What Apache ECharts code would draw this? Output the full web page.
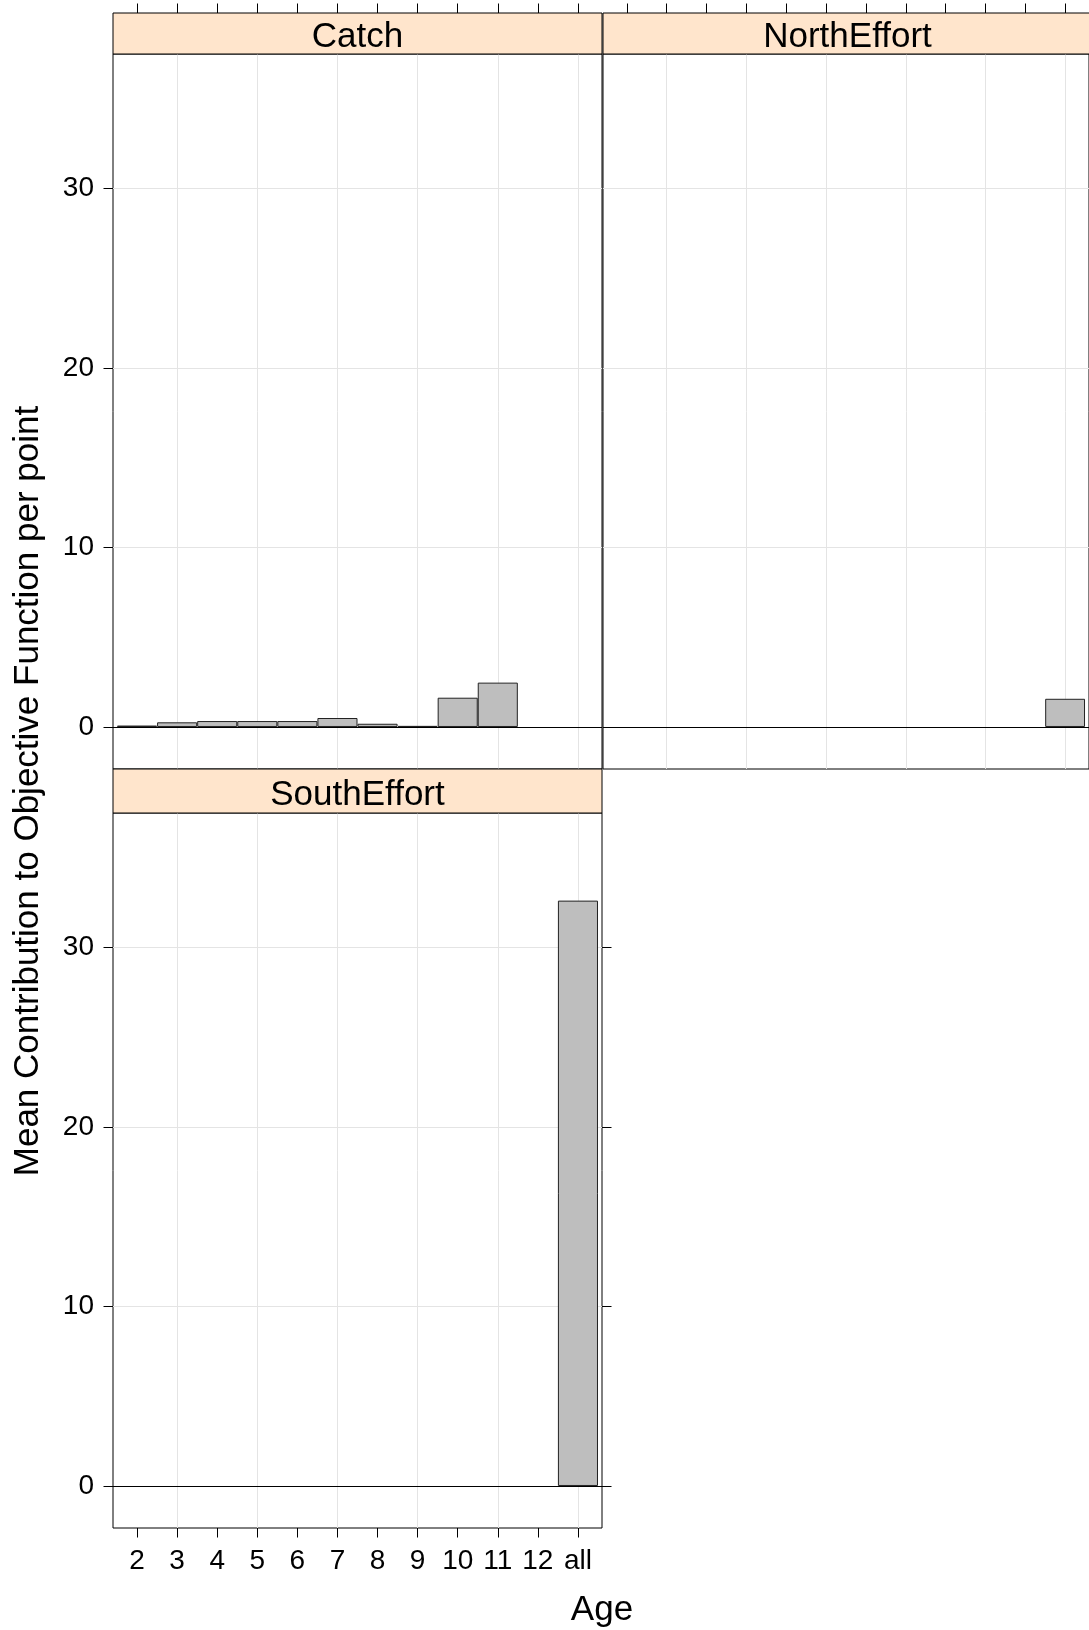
<!DOCTYPE html>
<html><head><meta charset="utf-8">
<script src="https://cdn.jsdelivr.net/npm/echarts@6/dist/echarts.min.js"></script>
<style>html,body{margin:0;padding:0;background:#fff}#c{width:1089px;height:1630px}</style>
</head><body><div id="c"></div>
<script>
// ---- data ----
const categories = ['2','3','4','5','6','7','8','9','10','11','12','all'];
const panelNames = ['Catch','NorthEffort','SouthEffort'];
const catchValues = [0.08,0.26,0.33,0.33,0.33,0.50,0.18,0.06,1.63,2.47,null,null];
const northEffortValues = [null,null,null,null,null,null,null,null,null,null,null,1.57];
const southEffortValues = [null,null,null,null,null,null,null,null,null,null,null,32.6];
const yTickValues = [0,10,20,30];
const yGridValues = [10,20,30];
const xGridCategories = ['3','5','7','9','11','all'];
const xTitle = 'Age';
const yTitle = 'Mean Contribution to Objective Function per point';

// ---- layout / style ----
const FONT = "'Liberation Sans', Arial, sans-serif";
const TICK_FS = 28, TITLE_FS = 35;
const yMin = -2.34, yMax = 37.48;
const xMin = 0.4, xMax = 12.6;
const PW = 489, PH = 715;
const TEXT_SHIFT = 4;
const panels = [
  {name: panelNames[0], values: catchValues, left: 113, top: 54, strip: 41, xTop: true, xBottom: false, yLeft: true, yRight: false},
  {name: panelNames[1], values: northEffortValues, left: 603, top: 54, strip: 41, xTop: true, xBottom: false, yLeft: false, yRight: false},
  {name: panelNames[2], values: southEffortValues, left: 113, top: 813, strip: 44, xTop: false, xBottom: true, yLeft: true, yRight: true}
];
const xPos = categories.map((c, i) => i + 1);

const grid = [], xAxis = [], yAxis = [], series = [], graphic = [];
const hidden = {axisLine:{show:false, onZero:false}, axisTick:{show:false}, axisLabel:{show:false}, splitLine:{show:false}};
const tickStyle = {show:true, length:9.5, lineStyle:{color:'#000', width:1}};

panels.forEach((p, gi) => {
  grid.push({left: p.left, top: p.top, width: PW, height: PH, show: true, backgroundColor: '#fff', borderColor: '#000', borderWidth: 1, containLabel: false});
  const xi = xAxis.length;
  xAxis.push(Object.assign({}, hidden, {
    type: 'value', gridIndex: gi, min: xMin, max: xMax,
    position: p.xBottom ? 'bottom' : 'top',
    offset: p.xBottom ? 0 : p.strip,
    axisTick: Object.assign({}, tickStyle, {show: p.xBottom || p.xTop, customValues: xPos}),
    axisLabel: {show: p.xBottom, customValues: xPos, margin: 19, color: '#000', fontSize: TICK_FS, fontFamily: FONT,
      formatter: v => categories[Math.round(v) - 1] || ''}
  }));
  const yi = yAxis.length;
  yAxis.push(Object.assign({}, hidden, {
    type: 'value', gridIndex: gi, min: yMin, max: yMax, position: 'left',
    axisTick: Object.assign({}, tickStyle, {show: p.yLeft, customValues: yTickValues}),
    axisLabel: {show: p.yLeft, customValues: yTickValues, margin: 19, color: '#000', fontSize: TICK_FS, fontFamily: FONT}
  }));
  if (p.yRight) {
    yAxis.push(Object.assign({}, hidden, {
      type: 'value', gridIndex: gi, min: yMin, max: yMax, position: 'right',
      axisTick: Object.assign({}, tickStyle, {show: true, customValues: yTickValues})
    }));
  }
  series.push({
    type: 'line', xAxisIndex: xi, yAxisIndex: yi, data: [], silent: true,
    markLine: {
      silent: true, symbol: 'none', label: {show: false}, animation: false,
      data: [
        ...xGridCategories.map(c => ({xAxis: categories.indexOf(c) + 1, lineStyle: {color: '#e4e4e4', width: 1, type: 'solid'}})),
        ...yGridValues.map(v => ({yAxis: v, lineStyle: {color: '#e4e4e4', width: 1, type: 'solid'}})),
        {yAxis: 0, lineStyle: {color: '#000', width: 1, type: 'solid'}}
      ]
    }
  });
  series.push({
    type: 'bar', xAxisIndex: xi, yAxisIndex: yi, z: 10, barCategoryGap: '0%', barGap: '0%',
    data: p.values.map((v, i) => [xPos[i], v]),
    itemStyle: {color: '#bebebe', borderColor: '#222', borderWidth: 1},
    animation: false
  });
  graphic.push({type: 'rect', z: 20, shape: {x: p.left, y: p.top - p.strip, width: PW, height: p.strip},
    style: {fill: '#ffe5cc', stroke: '#000', lineWidth: 1}});
  graphic.push({type: 'text', z: 21, x: p.left + PW / 2, y: p.top - p.strip / 2 + TEXT_SHIFT,
    style: {text: p.name, font: TITLE_FS + 'px ' + FONT, fill: '#000', align: 'center', verticalAlign: 'middle', textAlign: 'center', textVerticalAlign: 'middle'}});
});

graphic.push({type: 'text', z: 21, x: 602, y: 1608 + 2,
  style: {text: xTitle, font: TITLE_FS + 'px ' + FONT, fill: '#000', align: 'center', verticalAlign: 'middle', textAlign: 'center', textVerticalAlign: 'middle'}});
graphic.push({type: 'text', z: 21, x: 25 + 3, y: 791, rotation: Math.PI / 2,
  style: {text: yTitle, font: TITLE_FS + 'px ' + FONT, fill: '#000', align: 'center', verticalAlign: 'middle', textAlign: 'center', textVerticalAlign: 'middle'}});

const chart = echarts.init(document.getElementById('c'), null, {renderer: 'canvas'});
chart.setOption({animation: false, backgroundColor: '#fff', grid, xAxis, yAxis, series, graphic});
</script></body></html>
